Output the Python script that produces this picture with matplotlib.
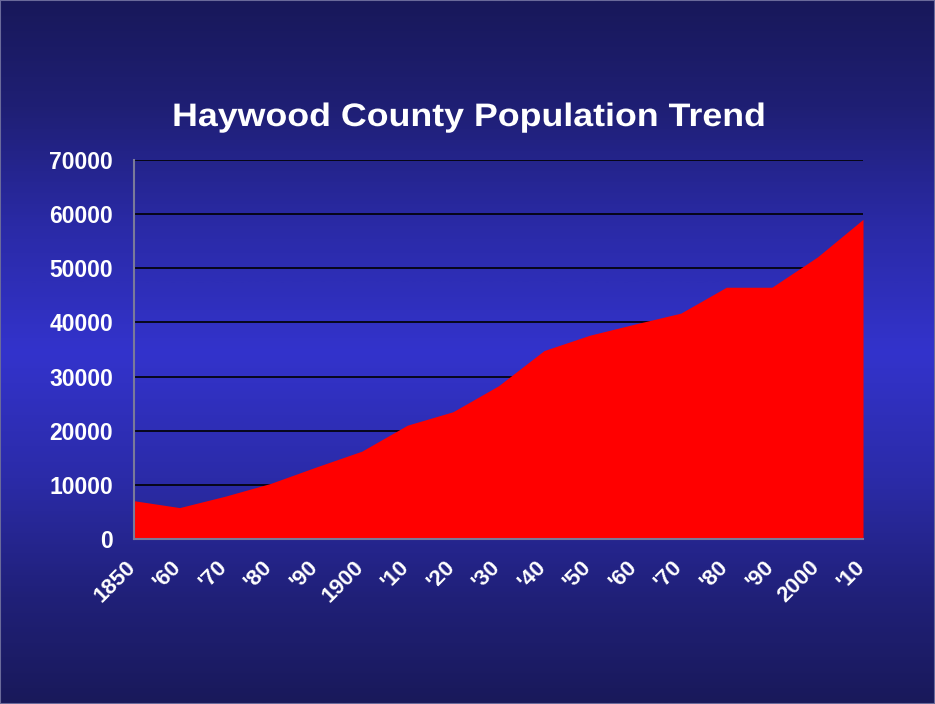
import numpy as np
import matplotlib
matplotlib.use("Agg")
import matplotlib.pyplot as plt
from matplotlib.colors import LinearSegmentedColormap
from matplotlib.patches import Rectangle, PathPatch
from matplotlib.textpath import TextPath
from matplotlib.font_manager import FontProperties
from matplotlib.transforms import Affine2D, IdentityTransform, ScaledTranslation

# Haywood County census counts, 1850-2010
decades = ["1850", "'60", "'70", "'80", "'90", "1900", "'10", "'20", "'30",
           "'40", "'50", "'60", "'70", "'80", "'90", "2000", "'10"]
population = [7070, 5800, 7900, 10270, 13300, 16220, 21020, 23500, 28300,
              34800, 37630, 39710, 41710, 46500, 46500, 52100, 59040]
y_ticks = [0, 10000, 20000, 30000, 40000, 50000, 60000, 70000]
title = "Haywood County Population Trend"

plt.rcParams["font.family"] = ["Liberation Sans", "DejaVu Sans"]

W, H = 935, 704
fig = plt.figure(figsize=(W / 100, H / 100), dpi=100)

# slide background: dark navy at the edges, bright blue in the middle
bg = fig.add_axes([0, 0, 1, 1], zorder=-10)
grad_cmap = LinearSegmentedColormap.from_list(
    "slide",
    [(0.0, "#18185a"), (0.15, "#1f1f74"), (0.32, "#2a2aa6"),
     (0.5, "#3333cc"), (0.68, "#2b2ba8"), (0.85, "#202078"), (1.0, "#19195a")])
grad = np.linspace(0, 1, 512).reshape(-1, 1)
bg.imshow(grad, aspect="auto", cmap=grad_cmap, extent=[0, 1, 0, 1],
          origin="upper")
bg.set_axis_off()
fig.patches.append(Rectangle((0, 0), 1, 1, transform=fig.transFigure,
                             fill=False, edgecolor="#6a6a9a", lw=1.5))

ax = fig.add_axes([0.1433, 0.2344, 0.7797, 0.5383])
ax.set_facecolor("none")

x = np.arange(len(decades))
ax.fill_between(x, population, 0, color="#ff0000", lw=0, zorder=3)

ax.set_xlim(0, len(decades) - 1)
ax.set_ylim(0, 70000)
ax.set_yticks(y_ticks)
ax.set_yticklabels([str(v) for v in y_ticks], fontsize=16.5,
                   fontweight="bold", color="white")
ax.set_xticks(x)
ax.set_xticklabels(decades, rotation=45, ha="right", va="top",
                   fontsize=16, fontweight="bold", color="white")
ax.tick_params(axis="y", length=0, pad=15)
ax.tick_params(axis="x", length=0, pad=11)
# nudge the slanted decade labels so their ends sit under each tick
shift = ScaledTranslation(6 / 100, -2 / 100, fig.dpi_scale_trans)
for lbl in ax.get_xticklabels():
    lbl.set_transform(lbl.get_transform() + shift)

ax.grid(axis="y", color="black", lw=1.2, zorder=1)
ax.set_axisbelow(True)
for side in ("top", "right"):
    ax.spines[side].set_visible(False)
for side in ("left", "bottom"):
    ax.spines[side].set_color("#7a7a9a")
    ax.spines[side].set_linewidth(1.5)
    ax.spines[side].set_zorder(4)

# title: wide-set bold sans, drawn as a path so it can be stretched sideways
tp = TextPath((0, 0), title, size=32.5,
              prop=FontProperties(family="Liberation Sans", weight="bold"))
ext = tp.get_extents()
stretch = 1.1
tw = ext.width * stretch
tx = 469 - tw / 2 - ext.x0 * stretch
ty = H - 126
title_path = Affine2D().scale(stretch, 1).translate(tx, ty).transform_path(tp)
fig.patches.append(PathPatch(title_path, transform=IdentityTransform(),
                             facecolor="white", edgecolor="none"))

fig.savefig("out.png", dpi=100)
